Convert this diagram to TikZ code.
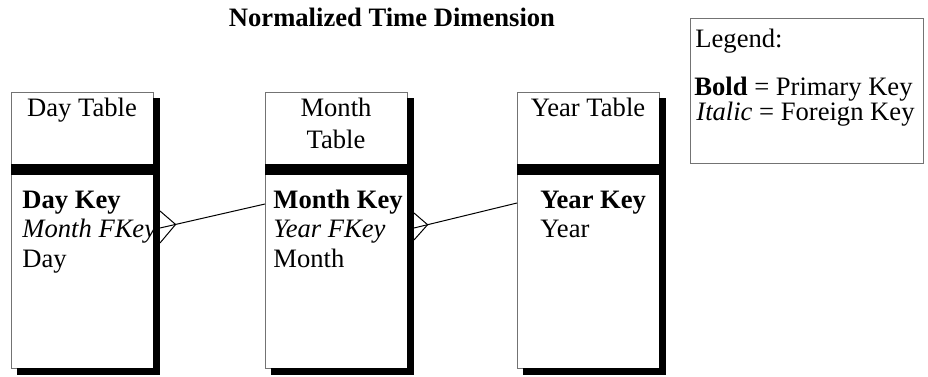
\documentclass[tikz,border=0pt]{standalone}
\usepackage{fontspec}
\setmainfont{Liberation Serif}
\usetikzlibrary{calc}

\tikzset{
  tablebox/.style={draw=black!55, fill=white, line width=0.5pt, inner sep=0pt,
    outer sep=0pt, anchor=north west},
  field/.style={inner sep=0pt, anchor=base west},
  caption/.style={inner sep=0pt, anchor=base},
  shade/.style={fill=black},
  link/.style={draw=black, line width=0.5pt},
}

\begin{document}
\begin{tikzpicture}[x=0.5pt,y=-0.5pt,font=\fontsize{13.3}{15}\selectfont]
   \useasboundingbox (0,0) rectangle (928,376);

   \node[caption,font=\fontsize{13.3}{15}\selectfont\bfseries] (title) at (392,26)
   {Normalized Time Dimension};

   % the three tables
   \node[tablebox,minimum width=71pt,minimum height=138pt] (dayTbl) at (11,92) {};
   \node[tablebox,minimum width=71pt,minimum height=138pt] (monthTbl) at (265,92) {};
   \node[tablebox,minimum width=71pt,minimum height=138pt] (yearTbl) at (517,92) {};

   \node[caption] (dayHead) at (82,116) {Day Table};
   \node[caption] (monthHead) at (336,116) {Month};
   \node[caption] (monthHeadB) at (336,148) {Table};
   \node[caption] (yearHead) at (588,116) {Year Table};

   \node[field] (dayPK) at (22,208) {\textbf{Day Key}};
   \node[field] (dayFK) at (22,237) {\textit{Month FKey}};
   \node[field] (dayAttr) at (22,267) {Day};

   \node[field] (monthPK) at (273,208) {\textbf{Month Key}};
   \node[field] (monthFK) at (273,237) {\textit{Year FKey}};
   \node[field] (monthAttr) at (273,267) {Month};

   \node[field] (yearPK) at (540,208) {\textbf{Year Key}};
   \node[field] (yearAttr) at (540,237) {Year};

   % shadows and header bars
   \fill[shade] ($(dayTbl.north east)+(0,6)$) rectangle ($(dayTbl.south east)+(7,7)$);
   \fill[shade] ($(dayTbl.south west)+(6,0)$) rectangle ($(dayTbl.south east)+(7,7)$);
   \fill[shade] ($(dayTbl.north west)+(0,72)$) rectangle ($(dayTbl.north east)+(7,83)$);

   \fill[shade] ($(monthTbl.north east)+(0,6)$) rectangle ($(monthTbl.south east)+(7,7)$);
   \fill[shade] ($(monthTbl.south west)+(6,0)$) rectangle ($(monthTbl.south east)+(7,7)$);
   \fill[shade] ($(monthTbl.north west)+(0,72)$) rectangle ($(monthTbl.north east)+(7,83)$);

   \fill[shade] ($(yearTbl.north east)+(0,6)$) rectangle ($(yearTbl.south east)+(7,7)$);
   \fill[shade] ($(yearTbl.south west)+(6,0)$) rectangle ($(yearTbl.south east)+(7,7)$);
   \fill[shade] ($(yearTbl.north west)+(0,72)$) rectangle ($(yearTbl.north east)+(7,83)$);

   % one-to-many links with crow's feet
   \coordinate (monthLink) at ($(monthTbl.west |- monthPK.base)+(0,-4)$);
   \coordinate (dayEnd) at ($(dayTbl.east |- dayFK.base)+(7,-9)$);
   \coordinate (dayFoot) at ($(dayEnd)!8pt!(monthLink)$);
   \draw[link] (monthLink) -- (dayEnd);
   \draw[link] ($(dayEnd)+(0,-17)$) -- (dayFoot) -- ($(dayEnd)+(0,15)$);

   \coordinate (yearLink) at ($(yearTbl.west |- yearPK.base)+(0,-5)$);
   \coordinate (monthEnd) at ($(monthTbl.east |- monthFK.base)+(7,-9)$);
   \coordinate (monthFoot) at ($(monthEnd)!7pt!(yearLink)$);
   \draw[link] (yearLink) -- (monthEnd);
   \draw[link] ($(monthEnd)+(0,-15)$) -- (monthFoot) -- ($(monthEnd)+(0,12)$);

   % legend
   \node[tablebox,minimum width=116.5pt,minimum height=72.5pt] (legend) at (690,18) {};
   \node[field] (legendHead) at (695,47) {Legend:};
   \node[field] (legendBold) at (694,95) {\textbf{Bold} = Primary Key};
   \node[field] (legendItalic) at (696,120) {\textit{Italic} = Foreign Key};
\end{tikzpicture}
\end{document}
